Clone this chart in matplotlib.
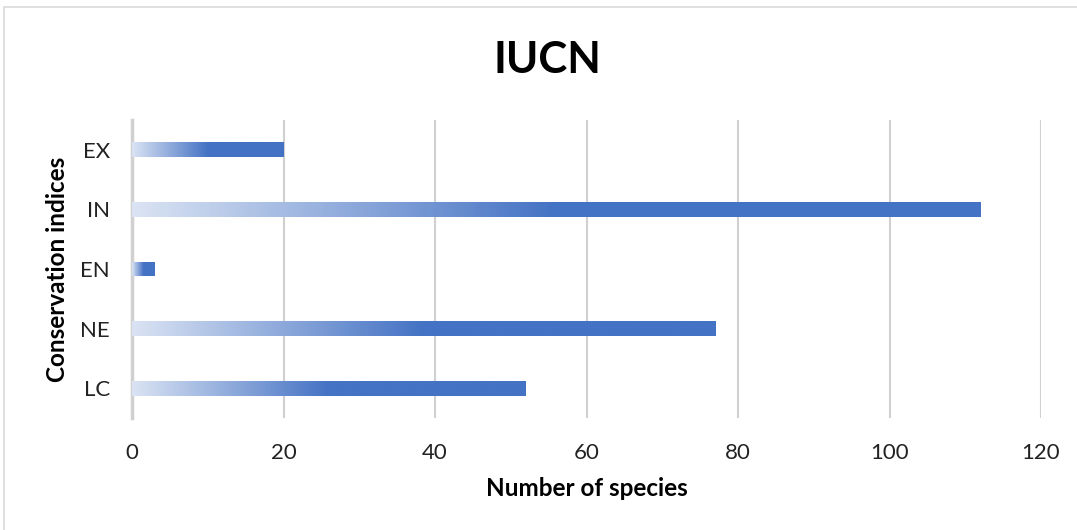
import matplotlib
matplotlib.use("Agg")
import matplotlib.pyplot as plt
import numpy as np
from matplotlib.colors import LinearSegmentedColormap
from matplotlib.patches import Rectangle

categories = ["LC", "NE", "EN", "IN", "EX"]
values = [52, 77, 3, 112, 20]
xticks = [0, 20, 40, 60, 80, 100, 120]

plt.rcParams['font.family'] = ['Lato', 'DejaVu Sans']

fig = plt.figure(figsize=(10.77, 5.30), dpi=100)
ax = fig.add_axes([132/1077, 1-418/530, (1041-132)/1077, (418-120)/530])

cmap = LinearSegmentedColormap.from_list(
    "grad", [(0, "#DAE3F3"), (0.5, "#4472C4"), (1.0, "#4472C4")])

ypos = np.arange(len(categories))
bars = ax.barh(ypos, values, height=0.25, color="none", edgecolor="none", zorder=3)
grad = np.linspace(0, 1, 256).reshape(1, -1)
for b in bars:
    x0, y0 = b.get_x(), b.get_y()
    w, h = b.get_width(), b.get_height()
    im = ax.imshow(grad, cmap=cmap, extent=[x0, x0 + w, y0, y0 + h],
                   aspect="auto", zorder=3, interpolation="bilinear")
    im.set_clip_path(b)

ax.set_xlim(0, 120)
ax.set_ylim(-0.5, 4.5)
ax.set_xticks(xticks)
ax.set_yticks(ypos)
ax.set_yticklabels(categories)
ax.grid(axis="x", color="#D0D0D0", linewidth=1.5, zorder=0)
ax.set_axisbelow(True)
for s in ["top", "right", "bottom"]:
    ax.spines[s].set_visible(False)
ax.spines["left"].set_color("#D0D0D0")
ax.spines["left"].set_linewidth(2.5)
ax.tick_params(axis="both", length=0, labelsize=16, colors="#222222")
ax.tick_params(axis="x", pad=18)
ax.tick_params(axis="y", pad=16)

ax.set_xlabel("Number of species", fontsize=17.5, fontweight="bold", labelpad=10)
ax.set_ylabel("Conservation indices", fontsize=17.5, fontweight="bold", labelpad=8)
fig.text(547/1077, 1-60/530, "IUCN", ha="center", va="center",
         fontsize=31.5, fontweight="bold")

fig.patches.append(Rectangle((4/1077, -0.01), 1.1, 1 - 7/530 + 0.01,
                             transform=fig.transFigure, fill=False,
                             edgecolor="#D9D9D9", linewidth=1.2))

fig.savefig("out.png", dpi=100)
